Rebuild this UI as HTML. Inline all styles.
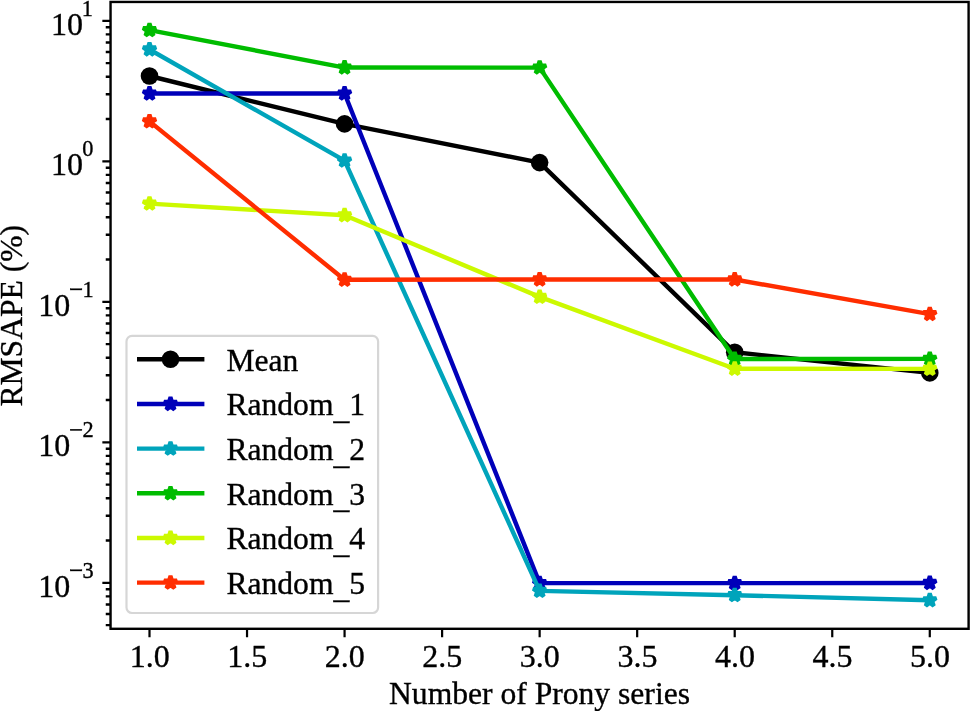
<!DOCTYPE html>
<html><head><meta charset="utf-8"><title>RMSAPE vs Number of Prony series</title>
<style>
html,body{margin:0;padding:0;background:#fff;}
body{width:970px;height:711px;overflow:hidden;font-family:"Liberation Serif",serif;}
svg{display:block;will-change:transform;}
</style></head><body>
<svg width="970" height="711" viewBox="0 0 970 711">
<rect width="970" height="711" fill="#fff"/>
<path d="M149.50 628.80 V637.30 M247.03 628.80 V637.30 M344.57 628.80 V637.30 M442.11 628.80 V637.30 M539.64 628.80 V637.30 M637.17 628.80 V637.30 M734.71 628.80 V637.30 M832.25 628.80 V637.30 M929.78 628.80 V637.30 M110.55 20.80 H102.35 M110.55 161.30 H102.35 M110.55 301.80 H102.35 M110.55 442.30 H102.35 M110.55 582.80 H102.35" stroke="#000" stroke-width="2.2" fill="none"/>
<path d="M110.55 625.09 H105.75 M110.55 613.97 H105.75 M110.55 604.56 H105.75 M110.55 596.42 H105.75 M110.55 589.23 H105.75 M110.55 540.51 H105.75 M110.55 515.76 H105.75 M110.55 498.21 H105.75 M110.55 484.59 H105.75 M110.55 473.47 H105.75 M110.55 464.06 H105.75 M110.55 455.92 H105.75 M110.55 448.73 H105.75 M110.55 400.01 H105.75 M110.55 375.26 H105.75 M110.55 357.71 H105.75 M110.55 344.09 H105.75 M110.55 332.97 H105.75 M110.55 323.56 H105.75 M110.55 315.42 H105.75 M110.55 308.23 H105.75 M110.55 259.51 H105.75 M110.55 234.76 H105.75 M110.55 217.21 H105.75 M110.55 203.59 H105.75 M110.55 192.47 H105.75 M110.55 183.06 H105.75 M110.55 174.92 H105.75 M110.55 167.73 H105.75 M110.55 119.01 H105.75 M110.55 94.26 H105.75 M110.55 76.71 H105.75 M110.55 63.09 H105.75 M110.55 51.97 H105.75 M110.55 42.56 H105.75 M110.55 34.42 H105.75 M110.55 27.23 H105.75" stroke="#000" stroke-width="2.4" fill="none"/>
<g fill="none" stroke-linejoin="round" stroke-linecap="butt">
<path d="M149.50 76.00 L344.57 123.90 L539.64 162.60 L734.71 352.30 L929.78 372.90" stroke="#000000" stroke-width="4.40"/>
<circle cx="149.50" cy="76.00" r="8.80" fill="#000000" stroke="none"/>
<circle cx="344.57" cy="123.90" r="8.80" fill="#000000" stroke="none"/>
<circle cx="539.64" cy="162.60" r="8.80" fill="#000000" stroke="none"/>
<circle cx="734.71" cy="352.30" r="8.80" fill="#000000" stroke="none"/>
<circle cx="929.78" cy="372.90" r="8.80" fill="#000000" stroke="none"/>
<path d="M149.50 93.55 L344.57 93.55 L539.64 583.10 L734.71 583.10 L929.78 583.00" stroke="#0000b9" stroke-width="4.40"/>
<path d="M149.50 86.75 L151.03 91.45 L155.97 91.45 L151.97 94.35 L153.50 99.05 L149.50 96.15 L145.50 99.05 L147.03 94.35 L143.03 91.45 L147.97 91.45Z M344.57 86.75 L346.10 91.45 L351.04 91.45 L347.04 94.35 L348.57 99.05 L344.57 96.15 L340.57 99.05 L342.10 94.35 L338.10 91.45 L343.04 91.45Z M539.64 576.30 L541.17 581.00 L546.11 581.00 L542.11 583.90 L543.64 588.60 L539.64 585.70 L535.64 588.60 L537.17 583.90 L533.17 581.00 L538.11 581.00Z M734.71 576.30 L736.24 581.00 L741.18 581.00 L737.18 583.90 L738.71 588.60 L734.71 585.70 L730.71 588.60 L732.24 583.90 L728.24 581.00 L733.18 581.00Z M929.78 576.20 L931.31 580.90 L936.25 580.90 L932.25 583.80 L933.78 588.50 L929.78 585.60 L925.78 588.50 L927.31 583.80 L923.31 580.90 L928.25 580.90Z" fill="#0000b9" stroke="#0000b9" stroke-width="4.10" stroke-linejoin="bevel"/>
<path d="M149.50 49.50 L344.57 160.70 L539.64 590.90 L734.71 595.20 L929.78 600.30" stroke="#00a4bb" stroke-width="4.40"/>
<path d="M149.50 42.70 L151.03 47.40 L155.97 47.40 L151.97 50.30 L153.50 55.00 L149.50 52.10 L145.50 55.00 L147.03 50.30 L143.03 47.40 L147.97 47.40Z M344.57 153.90 L346.10 158.60 L351.04 158.60 L347.04 161.50 L348.57 166.20 L344.57 163.30 L340.57 166.20 L342.10 161.50 L338.10 158.60 L343.04 158.60Z M539.64 584.10 L541.17 588.80 L546.11 588.80 L542.11 591.70 L543.64 596.40 L539.64 593.50 L535.64 596.40 L537.17 591.70 L533.17 588.80 L538.11 588.80Z M734.71 588.40 L736.24 593.10 L741.18 593.10 L737.18 596.00 L738.71 600.70 L734.71 597.80 L730.71 600.70 L732.24 596.00 L728.24 593.10 L733.18 593.10Z M929.78 593.50 L931.31 598.20 L936.25 598.20 L932.25 601.10 L933.78 605.80 L929.78 602.90 L925.78 605.80 L927.31 601.10 L923.31 598.20 L928.25 598.20Z" fill="#00a4bb" stroke="#00a4bb" stroke-width="4.10" stroke-linejoin="bevel"/>
<path d="M149.50 30.20 L344.57 67.55 L539.64 67.60 L734.71 359.00 L929.78 358.90" stroke="#00bc00" stroke-width="4.40"/>
<path d="M149.50 23.40 L151.03 28.10 L155.97 28.10 L151.97 31.00 L153.50 35.70 L149.50 32.80 L145.50 35.70 L147.03 31.00 L143.03 28.10 L147.97 28.10Z M344.57 60.75 L346.10 65.45 L351.04 65.45 L347.04 68.35 L348.57 73.05 L344.57 70.15 L340.57 73.05 L342.10 68.35 L338.10 65.45 L343.04 65.45Z M539.64 60.80 L541.17 65.50 L546.11 65.50 L542.11 68.40 L543.64 73.10 L539.64 70.20 L535.64 73.10 L537.17 68.40 L533.17 65.50 L538.11 65.50Z M734.71 352.20 L736.24 356.90 L741.18 356.90 L737.18 359.80 L738.71 364.50 L734.71 361.60 L730.71 364.50 L732.24 359.80 L728.24 356.90 L733.18 356.90Z M929.78 352.10 L931.31 356.80 L936.25 356.80 L932.25 359.70 L933.78 364.40 L929.78 361.50 L925.78 364.40 L927.31 359.70 L923.31 356.80 L928.25 356.80Z" fill="#00bc00" stroke="#00bc00" stroke-width="4.10" stroke-linejoin="bevel"/>
<path d="M149.50 203.60 L344.57 215.30 L539.64 296.90 L734.71 368.80 L929.78 368.90" stroke="#ccf900" stroke-width="4.40"/>
<path d="M149.50 196.80 L151.03 201.50 L155.97 201.50 L151.97 204.40 L153.50 209.10 L149.50 206.20 L145.50 209.10 L147.03 204.40 L143.03 201.50 L147.97 201.50Z M344.57 208.50 L346.10 213.20 L351.04 213.20 L347.04 216.10 L348.57 220.80 L344.57 217.90 L340.57 220.80 L342.10 216.10 L338.10 213.20 L343.04 213.20Z M539.64 290.10 L541.17 294.80 L546.11 294.80 L542.11 297.70 L543.64 302.40 L539.64 299.50 L535.64 302.40 L537.17 297.70 L533.17 294.80 L538.11 294.80Z M734.71 362.00 L736.24 366.70 L741.18 366.70 L737.18 369.60 L738.71 374.30 L734.71 371.40 L730.71 374.30 L732.24 369.60 L728.24 366.70 L733.18 366.70Z M929.78 362.10 L931.31 366.80 L936.25 366.80 L932.25 369.70 L933.78 374.40 L929.78 371.50 L925.78 374.40 L927.31 369.70 L923.31 366.80 L928.25 366.80Z" fill="#ccf900" stroke="#ccf900" stroke-width="4.10" stroke-linejoin="bevel"/>
<path d="M149.50 121.40 L344.57 279.80 L539.64 279.50 L734.71 279.50 L929.78 314.10" stroke="#ff2d00" stroke-width="4.40"/>
<path d="M149.50 114.60 L151.03 119.30 L155.97 119.30 L151.97 122.20 L153.50 126.90 L149.50 124.00 L145.50 126.90 L147.03 122.20 L143.03 119.30 L147.97 119.30Z M344.57 273.00 L346.10 277.70 L351.04 277.70 L347.04 280.60 L348.57 285.30 L344.57 282.40 L340.57 285.30 L342.10 280.60 L338.10 277.70 L343.04 277.70Z M539.64 272.70 L541.17 277.40 L546.11 277.40 L542.11 280.30 L543.64 285.00 L539.64 282.10 L535.64 285.00 L537.17 280.30 L533.17 277.40 L538.11 277.40Z M734.71 272.70 L736.24 277.40 L741.18 277.40 L737.18 280.30 L738.71 285.00 L734.71 282.10 L730.71 285.00 L732.24 280.30 L728.24 277.40 L733.18 277.40Z M929.78 307.30 L931.31 312.00 L936.25 312.00 L932.25 314.90 L933.78 319.60 L929.78 316.70 L925.78 319.60 L927.31 314.90 L923.31 312.00 L928.25 312.00Z" fill="#ff2d00" stroke="#ff2d00" stroke-width="4.10" stroke-linejoin="bevel"/>
</g>
<rect x="110.55" y="1.95" width="858.05" height="626.85" fill="none" stroke="#000" stroke-width="2.40"/>
<rect x="126.50" y="335.90" width="251.60" height="277.10" rx="5.5" ry="5.5" fill="#fff" fill-opacity="0.8" stroke="#cccccc" stroke-opacity="0.8" stroke-width="2.2"/>
<path d="M137 359.30 H204.4" stroke="#000000" stroke-width="4.40" fill="none"/>
<circle cx="170.5" cy="359.30" r="8.80" fill="#000000"/>
<path d="M137 403.97 H204.4" stroke="#0000b9" stroke-width="4.40" fill="none"/>
<path d="M170.50 397.17 L172.03 401.87 L176.97 401.87 L172.97 404.77 L174.50 409.47 L170.50 406.57 L166.50 409.47 L168.03 404.77 L164.03 401.87 L168.97 401.87Z" fill="#0000b9" stroke="#0000b9" stroke-width="4.10" stroke-linejoin="bevel"/>
<path d="M137 448.64 H204.4" stroke="#00a4bb" stroke-width="4.40" fill="none"/>
<path d="M170.50 441.84 L172.03 446.54 L176.97 446.54 L172.97 449.44 L174.50 454.14 L170.50 451.24 L166.50 454.14 L168.03 449.44 L164.03 446.54 L168.97 446.54Z" fill="#00a4bb" stroke="#00a4bb" stroke-width="4.10" stroke-linejoin="bevel"/>
<path d="M137 493.31 H204.4" stroke="#00bc00" stroke-width="4.40" fill="none"/>
<path d="M170.50 486.51 L172.03 491.21 L176.97 491.21 L172.97 494.11 L174.50 498.81 L170.50 495.91 L166.50 498.81 L168.03 494.11 L164.03 491.21 L168.97 491.21Z" fill="#00bc00" stroke="#00bc00" stroke-width="4.10" stroke-linejoin="bevel"/>
<path d="M137 537.98 H204.4" stroke="#ccf900" stroke-width="4.40" fill="none"/>
<path d="M170.50 531.18 L172.03 535.88 L176.97 535.88 L172.97 538.78 L174.50 543.48 L170.50 540.58 L166.50 543.48 L168.03 538.78 L164.03 535.88 L168.97 535.88Z" fill="#ccf900" stroke="#ccf900" stroke-width="4.10" stroke-linejoin="bevel"/>
<path d="M137 582.65 H204.4" stroke="#ff2d00" stroke-width="4.40" fill="none"/>
<path d="M170.50 575.85 L172.03 580.55 L176.97 580.55 L172.97 583.45 L174.50 588.15 L170.50 585.25 L166.50 588.15 L168.03 583.45 L164.03 580.55 L168.97 580.55Z" fill="#ff2d00" stroke="#ff2d00" stroke-width="4.10" stroke-linejoin="bevel"/>
<g font-family="'Liberation Serif', serif" font-size="31.60" fill="#000" stroke="#000" stroke-width="0.35">
<text x="226.4" y="370.50">Mean</text>
<text x="226.4" y="415.17">Random<tspan dy="3.8">_</tspan><tspan dy="-3.8">1</tspan></text>
<text x="226.4" y="459.84">Random<tspan dy="3.8">_</tspan><tspan dy="-3.8">2</tspan></text>
<text x="226.4" y="504.51">Random<tspan dy="3.8">_</tspan><tspan dy="-3.8">3</tspan></text>
<text x="226.4" y="549.18">Random<tspan dy="3.8">_</tspan><tspan dy="-3.8">4</tspan></text>
<text x="226.4" y="593.85">Random<tspan dy="3.8">_</tspan><tspan dy="-3.8">5</tspan></text>
<text x="149.70" y="667" text-anchor="middle" font-size="32.00">1.0</text>
<text x="247.23" y="667" text-anchor="middle" font-size="32.00">1.5</text>
<text x="344.77" y="667" text-anchor="middle" font-size="32.00">2.0</text>
<text x="442.31" y="667" text-anchor="middle" font-size="32.00">2.5</text>
<text x="539.84" y="667" text-anchor="middle" font-size="32.00">3.0</text>
<text x="637.38" y="667" text-anchor="middle" font-size="32.00">3.5</text>
<text x="734.91" y="667" text-anchor="middle" font-size="32.00">4.0</text>
<text x="832.45" y="667" text-anchor="middle" font-size="32.00">4.5</text>
<text x="929.98" y="667" text-anchor="middle" font-size="32.00">5.0</text>
<text x="539.5" y="704.2" text-anchor="middle">Number of Prony series</text>
<text transform="translate(22.0 315.7) rotate(-90)" text-anchor="middle">RMSAPE (%)</text>
<text x="51.08" y="34.70" font-size="32.00">10</text>
<text x="81.70" y="15.60" font-size="22.30">1</text>
<text x="51.08" y="175.20" font-size="32.00">10</text>
<text x="82.30" y="156.10" font-size="22.30">0</text>
<text x="38.28" y="315.70" font-size="32.00">10</text>
<rect x="70.2" y="288.70" width="11.7" height="1.3"/>
<text x="82.60" y="296.60" font-size="22.30">1</text>
<text x="38.28" y="456.20" font-size="32.00">10</text>
<rect x="70.2" y="429.20" width="11.7" height="1.3"/>
<text x="82.60" y="437.10" font-size="22.30">2</text>
<text x="38.28" y="596.70" font-size="32.00">10</text>
<rect x="70.2" y="569.70" width="11.7" height="1.3"/>
<text x="82.60" y="577.60" font-size="22.30">3</text>
</g>
</svg>
</body></html>
